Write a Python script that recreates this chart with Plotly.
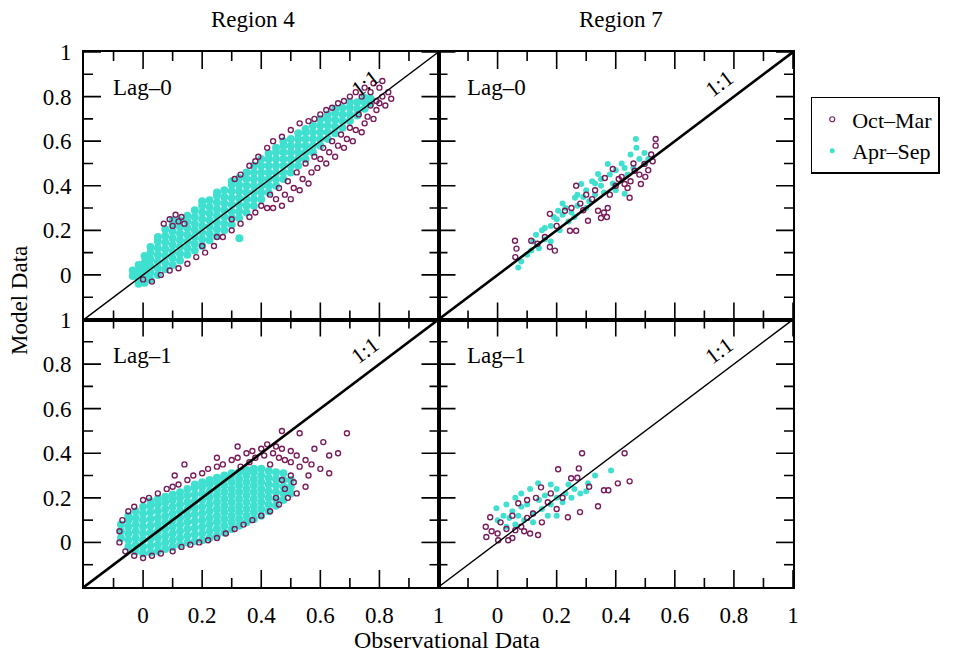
import plotly.graph_objects as go
from plotly.subplots import make_subplots

# ---------------- data ----------------
AXIS_RANGE = [-0.2, 1.0]
TICK_VALUES = [0, 0.2, 0.4, 0.6, 0.8, 1.0]
TICK_LABELS = ["0", "0.2", "0.4", "0.6", "0.8", "1"]
MINOR_TICKS = [-0.1, 0.1, 0.3, 0.5, 0.7, 0.9]
ONE_TO_ONE = [-0.2, 1.0]
REGION_TITLES = ["Region 4", "Region 7"]
LAG_LABELS = ["Lag\u20130", "Lag\u20131"]
SERIES_NAMES = ["Oct\u2013Mar", "Apr\u2013Sep"]

# Region 4, Lag-0, Apr-Sep : dense band, given as (obs, [model values]) columns
r4_lag0_apr_cols = [
    (-0.035, [-0.005, 0.02]),
    (-0.015, [-0.04, -0.015, 0.015, 0.045]),
    (0.005, [-0.035, -0.005, 0.025, 0.055, 0.085]),
    (0.025, [-0.02, 0.01, 0.04, 0.07, 0.10, 0.125]),
    (0.05, [0.0, 0.03, 0.06, 0.09, 0.12, 0.15, 0.17]),
    (0.075, [0.025, 0.055, 0.085, 0.115, 0.145, 0.175, 0.205]),
    (0.10, [0.045, 0.075, 0.105, 0.135, 0.165, 0.195, 0.225, 0.245]),
    (0.125, [0.065, 0.095, 0.125, 0.155, 0.185, 0.215, 0.245]),
    (0.15, [0.09, 0.12, 0.15, 0.18, 0.21, 0.24, 0.265]),
    (0.175, [0.11, 0.14, 0.17, 0.20, 0.23, 0.26, 0.29]),
    (0.20, [0.13, 0.16, 0.19, 0.22, 0.25, 0.28, 0.31, 0.33]),
    (0.225, [0.155, 0.185, 0.215, 0.245, 0.275, 0.305, 0.335]),
    (0.25, [0.175, 0.205, 0.235, 0.265, 0.295, 0.325, 0.355, 0.37]),
    (0.275, [0.20, 0.23, 0.26, 0.29, 0.32, 0.35, 0.38]),
    (0.30, [0.225, 0.255, 0.285, 0.315, 0.345, 0.375, 0.405, 0.42]),
    (0.325, [0.255, 0.285, 0.315, 0.345, 0.375, 0.405, 0.435]),
    (0.35, [0.28, 0.31, 0.34, 0.37, 0.40, 0.43, 0.46]),
    (0.375, [0.31, 0.34, 0.37, 0.40, 0.43, 0.46, 0.49]),
    (0.40, [0.34, 0.37, 0.40, 0.43, 0.46, 0.49, 0.52]),
    (0.425, [0.37, 0.40, 0.43, 0.46, 0.49, 0.52, 0.545]),
    (0.45, [0.40, 0.43, 0.46, 0.49, 0.52, 0.55, 0.57]),
    (0.475, [0.43, 0.46, 0.49, 0.52, 0.55, 0.58, 0.60]),
    (0.50, [0.46, 0.49, 0.52, 0.55, 0.58, 0.61]),
    (0.525, [0.49, 0.52, 0.55, 0.58, 0.61, 0.635]),
    (0.55, [0.52, 0.55, 0.58, 0.61, 0.64, 0.655]),
    (0.575, [0.55, 0.58, 0.61, 0.64, 0.67]),
    (0.60, [0.58, 0.61, 0.64, 0.67, 0.70]),
    (0.625, [0.61, 0.64, 0.67, 0.70, 0.72]),
    (0.65, [0.635, 0.665, 0.695, 0.725, 0.745]),
    (0.675, [0.66, 0.69, 0.72, 0.75]),
    (0.70, [0.69, 0.72, 0.75, 0.775]),
    (0.725, [0.715, 0.745, 0.775]),
    (0.75, [0.745, 0.775, 0.795]),
    (0.77, [0.77, 0.79]),
    (0.326, [0.165]),
]

# Region 4, Lag-0, Oct-Mar (obs, model)
r4_lag0_oct = [
    (0.0, -0.02), (0.03, -0.03), (0.06, 0.0), (0.09, 0.02), (0.12, 0.03), (0.15, 0.05),
    (0.18, 0.08), (0.21, 0.1), (0.24, 0.13), (0.27, 0.17), (0.3, 0.2), (0.33, 0.23),
    (0.36, 0.26), (0.38, 0.28), (0.4, 0.31), (0.42, 0.3), (0.44, 0.3), (0.45, 0.34),
    (0.47, 0.31), (0.48, 0.36), (0.5, 0.34), (0.51, 0.39), (0.53, 0.38), (0.54, 0.43),
    (0.56, 0.41), (0.57, 0.46), (0.59, 0.48), (0.6, 0.52), (0.62, 0.5), (0.63, 0.55),
    (0.65, 0.53), (0.66, 0.58), (0.68, 0.57), (0.69, 0.61), (0.71, 0.6), (0.72, 0.65),
    (0.74, 0.64), (0.75, 0.68), (0.76, 0.71), (0.78, 0.7), (0.79, 0.74), (0.8, 0.77),
    (0.82, 0.76), (0.84, 0.79), (0.83, 0.82), (0.81, 0.8), (0.8, 0.84), (0.81, 0.87),
    (0.78, 0.86), (0.77, 0.82), (0.75, 0.84), (0.74, 0.8), (0.72, 0.82), (0.7, 0.8),
    (0.68, 0.78), (0.66, 0.77), (0.64, 0.75), (0.62, 0.74), (0.6, 0.72), (0.58, 0.7),
    (0.56, 0.69), (0.53, 0.68), (0.5, 0.65), (0.47, 0.62), (0.44, 0.6), (0.42, 0.57),
    (0.39, 0.53), (0.38, 0.51), (0.36, 0.49), (0.33, 0.45), (0.31, 0.43),
    (0.07, 0.23), (0.09, 0.25), (0.1, 0.22), (0.12, 0.24), (0.13, 0.26), (0.11, 0.27),
    (0.14, 0.23), (0.73, 0.72), (0.7, 0.66), (0.67, 0.63), (0.64, 0.6), (0.61, 0.57),
    (0.58, 0.53), (0.55, 0.5), (0.52, 0.46), (0.49, 0.42), (0.46, 0.39), (0.43, 0.36),
    (0.77, 0.76), (0.79, 0.78), (0.3, 0.25), (0.25, 0.17), (0.2, 0.13),
]

# Region 4, Lag-1, Apr-Sep : dense band columns
r4_lag1_apr_cols = [
    (-0.075, [0.02, 0.05, 0.08]),
    (-0.05, [-0.02, 0.01, 0.04, 0.07, 0.10, 0.12]),
    (-0.025, [-0.04, -0.01, 0.02, 0.05, 0.08, 0.11, 0.14]),
    (0.0, [-0.05, -0.02, 0.01, 0.04, 0.07, 0.10, 0.13, 0.16]),
    (0.025, [-0.045, -0.015, 0.015, 0.045, 0.075, 0.105, 0.135, 0.165, 0.185]),
    (0.05, [-0.04, -0.01, 0.02, 0.05, 0.08, 0.11, 0.14, 0.17, 0.195]),
    (0.075, [-0.03, 0.0, 0.03, 0.06, 0.09, 0.12, 0.15, 0.18, 0.205]),
    (0.10, [-0.02, 0.01, 0.04, 0.07, 0.10, 0.13, 0.16, 0.19, 0.215]),
    (0.125, [-0.01, 0.02, 0.05, 0.08, 0.11, 0.14, 0.17, 0.20, 0.225]),
    (0.15, [0.0, 0.03, 0.06, 0.09, 0.12, 0.15, 0.18, 0.21, 0.24]),
    (0.175, [0.005, 0.035, 0.065, 0.095, 0.125, 0.155, 0.185, 0.215, 0.245, 0.26]),
    (0.20, [0.01, 0.04, 0.07, 0.10, 0.13, 0.16, 0.19, 0.22, 0.25, 0.27]),
    (0.225, [0.02, 0.05, 0.08, 0.11, 0.14, 0.17, 0.20, 0.23, 0.26, 0.28]),
    (0.25, [0.03, 0.06, 0.09, 0.12, 0.15, 0.18, 0.21, 0.24, 0.27, 0.29]),
    (0.275, [0.045, 0.075, 0.105, 0.135, 0.165, 0.195, 0.225, 0.255, 0.285, 0.30]),
    (0.30, [0.06, 0.09, 0.12, 0.15, 0.18, 0.21, 0.24, 0.27, 0.30, 0.31]),
    (0.325, [0.075, 0.105, 0.135, 0.165, 0.195, 0.225, 0.255, 0.285, 0.315]),
    (0.35, [0.09, 0.12, 0.15, 0.18, 0.21, 0.24, 0.27, 0.30, 0.325]),
    (0.375, [0.105, 0.135, 0.165, 0.195, 0.225, 0.255, 0.285, 0.315, 0.33]),
    (0.40, [0.12, 0.15, 0.18, 0.21, 0.24, 0.27, 0.30, 0.33]),
    (0.425, [0.14, 0.17, 0.20, 0.23, 0.26, 0.29, 0.32]),
    (0.45, [0.165, 0.195, 0.225, 0.255, 0.285, 0.315]),
    (0.475, [0.19, 0.22, 0.25, 0.28, 0.31]),
    (0.50, [0.22, 0.25, 0.28]),
]

# Region 4, Lag-1, Oct-Mar
r4_lag1_oct = [
    (-0.08, 0.05), (-0.07, 0.1), (-0.05, 0.14), (-0.03, 0.16), (0.0, 0.19), (0.02, 0.2),
    (0.05, 0.22), (0.08, 0.24), (0.1, 0.25), (0.12, 0.26), (0.15, 0.28), (0.17, 0.3),
    (0.2, 0.31), (0.22, 0.33), (0.25, 0.34), (0.27, 0.35), (0.3, 0.37), (0.32, 0.38),
    (0.35, 0.4), (0.37, 0.41), (0.4, 0.42), (0.42, 0.44), (0.45, 0.43), (0.47, 0.42),
    (0.5, 0.41), (0.52, 0.39), (0.55, 0.37), (0.57, 0.35), (0.6, 0.33), (0.56, 0.3),
    (0.38, 0.38), (0.41, 0.39), (0.44, 0.4), (0.46, 0.38), (0.48, 0.37), (0.5, 0.36),
    (0.53, 0.34), (0.43, 0.35), (0.36, 0.36), (0.33, 0.34),
    (-0.08, 0.0), (-0.06, -0.04), (-0.03, -0.06), (0.0, -0.07), (0.03, -0.06), (0.06, -0.05),
    (0.1, -0.04), (0.13, -0.02), (0.16, -0.01), (0.19, 0.0), (0.22, 0.01), (0.25, 0.02),
    (0.28, 0.04), (0.31, 0.06), (0.34, 0.08), (0.37, 0.1), (0.4, 0.12), (0.43, 0.14),
    (0.46, 0.17), (0.49, 0.2), (0.52, 0.22), (0.55, 0.25), (0.45, 0.2), (0.48, 0.24),
    (0.51, 0.27), (0.5, 0.3), (0.47, 0.28),
    (0.47, 0.5), (0.53, 0.49), (0.61, 0.45), (0.63, 0.39), (0.66, 0.4), (0.63, 0.31),
    (0.69, 0.49), (0.58, 0.42), (0.107, 0.3), (0.14, 0.35), (0.32, 0.43), (0.25, 0.38),
]

# Region 7, Lag-0
r7_lag0_apr = [
    (0.07, 0.033), (0.08, 0.06), (0.114, 0.109), (0.12, 0.15), (0.13, 0.18), (0.15, 0.2),
    (0.16, 0.16), (0.18, 0.22), (0.2, 0.25), (0.205, 0.288), (0.22, 0.27), (0.23, 0.3),
    (0.24, 0.24), (0.262, 0.346), (0.27, 0.31), (0.283, 0.408), (0.3, 0.38), (0.31, 0.33),
    (0.32, 0.42), (0.34, 0.453), (0.35, 0.4), (0.36, 0.37), (0.373, 0.498), (0.38, 0.45),
    (0.39, 0.41), (0.4, 0.47), (0.42, 0.5), (0.43, 0.364), (0.44, 0.45), (0.46, 0.48),
    (0.468, 0.61), (0.47, 0.57), (0.48, 0.52), (0.497, 0.547), (0.5, 0.5), (0.51, 0.52),
    (0.18, 0.15), (0.1, 0.09), (0.14, 0.12), (0.26, 0.26), (0.29, 0.35), (0.33, 0.36),
    (0.25, 0.28), (0.21, 0.2), (0.4, 0.38), (0.45, 0.54), (0.35, 0.43), (0.3, 0.3),
    (0.16, 0.21), (0.19, 0.26), (0.22, 0.32), (0.27, 0.36), (0.33, 0.41), (0.43, 0.48),
]
r7_lag0_oct = [
    (0.059, 0.153), (0.064, 0.118), (0.06, 0.08), (0.114, 0.153), (0.177, 0.274),
    (0.194, 0.109), (0.245, 0.198), (0.266, 0.40), (0.3, 0.36), (0.28, 0.32), (0.363, 0.435),
    (0.39, 0.475), (0.34, 0.288), (0.36, 0.28), (0.373, 0.30), (0.37, 0.26), (0.35, 0.255),
    (0.306, 0.243), (0.43, 0.408), (0.447, 0.346), (0.464, 0.467), (0.48, 0.45),
    (0.497, 0.498), (0.51, 0.47), (0.525, 0.51), (0.52, 0.54), (0.535, 0.61), (0.535, 0.58),
    (0.485, 0.408), (0.266, 0.198), (0.228, 0.288), (0.177, 0.125), (0.135, 0.14),
    (0.2, 0.22), (0.44, 0.39), (0.42, 0.44), (0.40, 0.40), (0.46, 0.50), (0.5, 0.44),
    (0.16, 0.17), (0.25, 0.3), (0.32, 0.34), (0.33, 0.38), (0.38, 0.36), (0.41, 0.43),
    (0.45, 0.42), (0.29, 0.29),
]

# Region 7, Lag-1
r7_lag1_apr = [
    (-0.004, 0.153), (0.03, 0.17), (0.06, 0.2), (0.08, 0.22), (0.11, 0.24), (0.137, 0.265),
    (0.18, 0.26), (0.2, 0.24), (0.24, 0.26), (0.306, 0.265), (0.33, 0.3), (0.384, 0.323),
    (0.28, 0.22), (0.25, 0.2), (0.22, 0.18), (0.18, 0.17), (0.15, 0.15), (0.12, 0.13),
    (0.09, 0.1), (0.06, 0.08), (0.03, 0.07), (0.0, 0.1), (0.02, 0.12), (0.05, 0.14),
    (0.08, 0.16), (0.1, 0.17), (0.14, 0.19), (0.16, 0.21), (0.2, 0.2), (0.23, 0.22),
    (0.26, 0.24), (0.3, 0.23), (0.12, 0.09), (0.17, 0.12), (0.04, 0.11), (0.07, 0.12),
    (0.2, 0.12),
]
r7_lag1_oct = [
    (0.286, 0.40), (0.43, 0.40), (0.447, 0.274), (0.407, 0.265), (0.36, 0.234),
    (0.375, 0.234), (0.34, 0.162), (0.279, 0.136), (0.238, 0.113), (0.205, 0.328),
    (0.275, 0.332), (0.249, 0.288), (0.27, 0.29), (0.31, 0.25), (0.17, 0.18), (-0.04, 0.07),
    (-0.038, 0.024), (0.002, 0.01), (0.036, 0.01), (0.137, 0.033), (0.09, 0.05),
    (0.06, 0.055), (-0.025, 0.113), (0.01, 0.09), (0.05, 0.12), (0.07, 0.176), (0.1, 0.19),
    (0.147, 0.247), (0.12, 0.13), (0.15, 0.09), (0.08, 0.07), (0.1, 0.11), (0.03, 0.06),
    (-0.02, 0.05), (0.0, 0.04), (0.18, 0.22), (0.2, 0.15), (0.22, 0.2), (0.13, 0.2),
    (0.05, 0.02), (0.11, 0.04),
]

# ---------------- helpers ----------------
def from_cols(cols):
    xs, ys = [], []
    for xv, yl in cols:
        for yv in yl:
            xs.append(xv)
            ys.append(yv)
    return xs, ys


def from_pairs(pairs):
    return [p[0] for p in pairs], [p[1] for p in pairs]


PURPLE = "#7a1c5c"
CYAN = "#40e0d0"
FONT = "Liberation Serif"
MAJOR_LEN, MINOR_LEN, TICK_W = 17, 9, 1.6

panels = [
    # row, col, apr data, oct data, apr marker size, 1:1 line width, lag label
    (1, 1, from_cols(r4_lag0_apr_cols), from_pairs(r4_lag0_oct), 8, 1.4, LAG_LABELS[0]),
    (1, 2, from_pairs(r7_lag0_apr), from_pairs(r7_lag0_oct), 6, 2.6, LAG_LABELS[0]),
    (2, 1, from_cols(r4_lag1_apr_cols), from_pairs(r4_lag1_oct), 8, 2.6, LAG_LABELS[1]),
    (2, 2, from_pairs(r7_lag1_apr), from_pairs(r7_lag1_oct), 6, 1.4, LAG_LABELS[1]),
]

fig = make_subplots(rows=2, cols=2, horizontal_spacing=0, vertical_spacing=0)

for row, col, apr, oct_, apr_size, lw, lag in panels:
    fig.add_trace(go.Scatter(x=apr[0], y=apr[1], mode="markers", showlegend=False,
                             marker=dict(color=CYAN, size=apr_size)),
                  row=row, col=col)
    fig.add_trace(go.Scatter(x=oct_[0], y=oct_[1], mode="markers", showlegend=False,
                             marker=dict(symbol="circle-open", color=PURPLE, size=5,
                                         line=dict(width=1.4, color=PURPLE))),
                  row=row, col=col)
    fig.add_trace(go.Scatter(x=ONE_TO_ONE, y=ONE_TO_ONE, mode="lines", showlegend=False,
                             line=dict(color="black", width=lw)),
                  row=row, col=col)

# legend-only traces
fig.add_trace(go.Scatter(x=[None], y=[None], mode="markers", name=SERIES_NAMES[0],
                         marker=dict(symbol="circle-open", color=PURPLE, size=5,
                                     line=dict(width=1.2, color=PURPLE))), row=1, col=1)
fig.add_trace(go.Scatter(x=[None], y=[None], mode="markers", name=SERIES_NAMES[1],
                         marker=dict(color=CYAN, size=5)), row=1, col=1)

axis_common = dict(
    range=AXIS_RANGE, tickmode="array", tickvals=TICK_VALUES, ticktext=TICK_LABELS,
    ticks="", showline=True, linewidth=2, linecolor="black", mirror=True,
    showgrid=False, zeroline=False, ticklabelstandoff=6,
    tickfont=dict(family=FONT, size=23, color="black"),
)

for row in (1, 2):
    for col in (1, 2):
        fig.update_xaxes(row=row, col=col, showticklabels=(row == 2), **axis_common)
        fig.update_yaxes(row=row, col=col, showticklabels=(col == 1), **axis_common)

axis_refs = {(1, 1): ("x", "y"), (1, 2): ("x2", "y2"), (2, 1): ("x3", "y3"), (2, 2): ("x4", "y4")}

# inside tick marks on all four sides of each panel, placed on the axis scales
shapes = []
tick_sets = [(TICK_VALUES, MAJOR_LEN), (MINOR_TICKS, MINOR_LEN)]
for (xr, yr) in axis_refs.values():
    for vals, L in tick_sets:
        for v in vals:
            for anchor, sign in ((0, 1), (1, -1)):
                shapes.append(dict(type="line", xref=xr, yref=yr + " domain",
                                   x0=v, x1=v, ysizemode="pixel", yanchor=anchor,
                                   y0=0, y1=sign * L,
                                   line=dict(color="black", width=TICK_W)))
                shapes.append(dict(type="line", xref=xr + " domain", yref=yr,
                                   y0=v, y1=v, xsizemode="pixel", xanchor=anchor,
                                   x0=0, x1=sign * L,
                                   line=dict(color="black", width=TICK_W)))

annotations = []
for row, col, apr, oct_, apr_size, lw, lag in panels:
    xr, yr = axis_refs[(row, col)]
    annotations.append(dict(x=-0.11, y=0.84, xref=xr, yref=yr, text=lag, showarrow=False,
                            xanchor="left", yanchor="middle",
                            font=dict(family=FONT, size=23, color="black")))
    annotations.append(dict(x=0.75, y=0.86, xref=xr, yref=yr, text="1:1", showarrow=False,
                            textangle=-37, xanchor="center", yanchor="middle",
                            font=dict(family=FONT, size=22, color="black")))

annotations += [
    dict(x=0.239, y=1.06, xref="paper", yref="paper", text=REGION_TITLES[0], showarrow=False,
         xanchor="center", yanchor="middle", font=dict(family=FONT, size=23, color="black")),
    dict(x=0.757, y=1.06, xref="paper", yref="paper", text=REGION_TITLES[1], showarrow=False,
         xanchor="center", yanchor="middle", font=dict(family=FONT, size=23, color="black")),
    dict(x=0.512, y=-0.099, xref="paper", yref="paper", text="Observational Data",
         showarrow=False, xanchor="center", yanchor="middle",
         font=dict(family=FONT, size=24, color="black")),
    dict(x=-0.09, y=0.535, xref="paper", yref="paper", text="Model Data", showarrow=False,
         textangle=-90, xanchor="center", yanchor="middle",
         font=dict(family=FONT, size=23, color="black")),
]

fig.update_layout(
    width=957, height=655,
    margin=dict(l=84, r=164, t=52, b=68),
    paper_bgcolor="white", plot_bgcolor="white",
    annotations=annotations, shapes=shapes,
    legend=dict(x=1.025, y=0.916, xanchor="left", yanchor="top",
                bordercolor="black", borderwidth=1.5,
                font=dict(family=FONT, size=22, color="black")),
)

fig.write_html("out.html")
